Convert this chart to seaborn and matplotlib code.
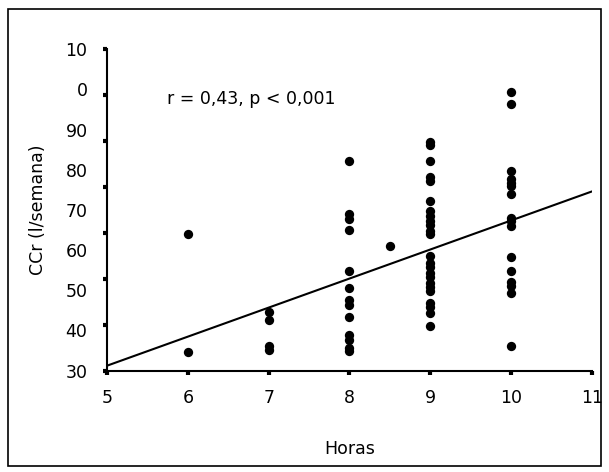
import numpy as np
import pandas as pd
import seaborn as sns
import matplotlib.pyplot as plt
from matplotlib.patches import Rectangle

# CCr values, grouped by hours
ccr_6h = [64.0, 34.5]
ccr_7h = [44.6, 42.7, 36.0, 35.2]
ccr_8h = [82.2, 69.0, 67.8, 65.0, 54.7, 50.5, 47.5, 46.2, 43.3, 38.8, 37.6, 35.6, 34.8]
ccr_8_5h = [60.9]
ccr_9h = [87.0, 86.2, 82.2, 78.2, 77.1, 72.3, 69.8, 68.6, 67.3, 66.2, 64.8, 64.0,
          58.6, 56.9, 55.7, 54.4, 53.2, 51.9, 50.7, 49.9, 46.9, 45.7, 44.4, 41.1]
ccr_10h = [99.4, 96.4, 79.7, 77.6, 76.8, 76.0, 73.9, 68.0, 67.2, 66.0,
           58.2, 54.9, 52.0, 51.0, 49.3, 36.1]

# regression line end points as drawn
line_x = [5, 11]
line_y = [31.2, 74.6]

x_ticks = [5, 6, 7, 8, 9, 10, 11]
y_label_pos = [30, 40, 50, 60, 70, 80, 90, 100, 110]
y_tick_labels = ['30', '40', '50', '60', '70', '80', '90', '0', '10']
annotation = 'r = 0,43, p < 0,001'

groups = [(6, ccr_6h), (7, ccr_7h), (8, ccr_8h), (8.5, ccr_8_5h), (9, ccr_9h), (10, ccr_10h)]
df = pd.DataFrame(
    [(h, v) for h, vals in groups for v in vals],
    columns=['Horas', 'CCr']
)
line_df = pd.DataFrame({'Horas': line_x, 'CCr': line_y})

sns.set_style('white')
plt.rcParams['font.family'] = ['DejaVu Sans']
plt.rcParams['text.color'] = 'black'
plt.rcParams['axes.labelcolor'] = 'black'
plt.rcParams['xtick.color'] = 'black'
plt.rcParams['ytick.color'] = 'black'

fig = plt.figure(figsize=(6.09, 4.72), dpi=100)
ax = fig.add_axes([0.1757, 0.215, 0.972 - 0.1757, 0.8956 - 0.215])

sns.lineplot(data=line_df, x='Horas', y='CCr', color='black', linewidth=1.5, ax=ax)
sns.scatterplot(data=df, x='Horas', y='CCr', color='black', s=45,
                edgecolor='black', linewidth=0, ax=ax, zorder=3)

ax.set_xlim(5, 11)
ax.set_ylim(30, 110)

ax.set_xticks(x_ticks)
ax.set_xticklabels([str(t) for t in x_ticks], fontsize=12.5)
ax.tick_params(axis='x', which='major', direction='out', length=3, width=3,
               bottom=True, pad=10)

# labels sit on an even 10-step scale, tick marks on an even 8-mark scale
ax.yaxis.remove_overlapping_locs = False
ax.set_yticks(y_label_pos)
ax.set_yticklabels(y_tick_labels, fontsize=12.5)
ax.tick_params(axis='y', which='major', length=0, pad=14)
ax.set_yticks(np.linspace(30, 110, 8), minor=True)
ax.tick_params(axis='y', which='minor', direction='out', length=3, width=3,
               left=True)

sns.despine(ax=ax)
for side in ['left', 'bottom']:
    ax.spines[side].set_linewidth(1.5)
    ax.spines[side].set_color('black')

ax.set_xlabel('Horas', fontsize=12.5, labelpad=24)
ax.set_ylabel('CCr (l/semana)', fontsize=12.5, labelpad=13)

ax.text(5.74, 97.6, annotation, fontsize=12.5, ha='left', va='center')

fig.patches.append(Rectangle((0.013, 0.013), 0.974, 0.967, transform=fig.transFigure,
                             fill=False, edgecolor='black', linewidth=1.2))

fig.savefig('out.png', dpi=100)
